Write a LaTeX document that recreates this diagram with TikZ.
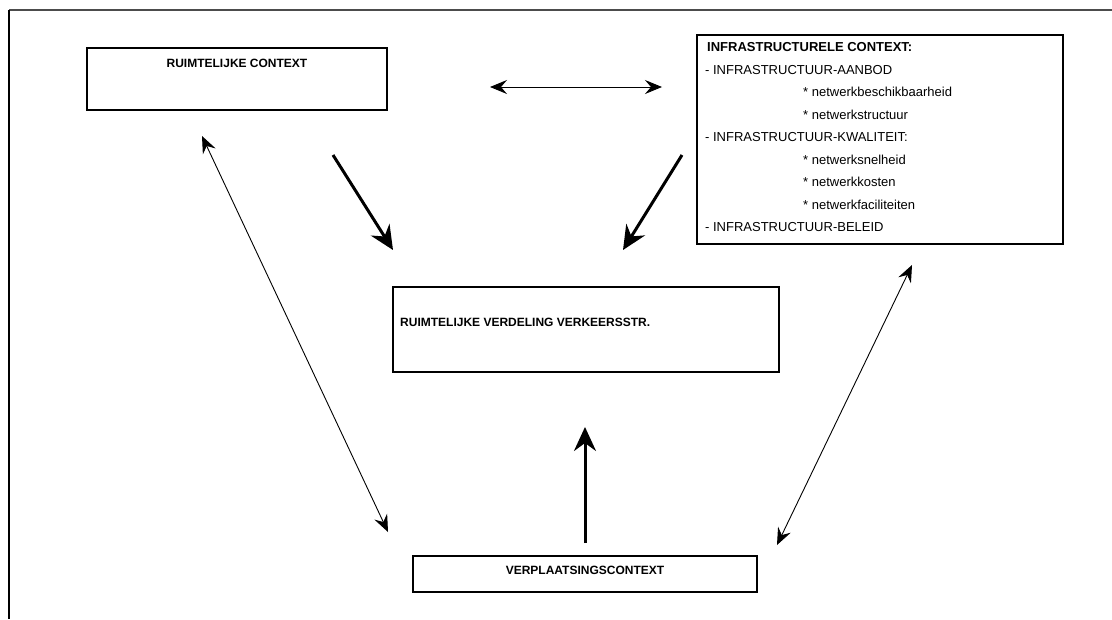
\documentclass[tikz,border=0pt]{standalone}
\usepackage{fontspec}
\setmainfont{Liberation Sans}
\usetikzlibrary{arrows.meta}
\begin{document}
\begin{tikzpicture}[x=1pt,y=-1pt,
  box/.style={draw, line width=2pt, inner sep=0pt, rectangle},
  txt/.style={font=\fontsize{13}{15}\selectfont, inner sep=0pt, anchor=base west},
  head/.style={font=\fontsize{12}{14}\selectfont\bfseries, inner sep=0pt},
  listhead/.style={font=\fontsize{13}{15}\selectfont\bfseries, inner sep=0pt, anchor=base west},
  heavy/.style={line width=3pt, -{Stealth[length=24pt,width=22pt,inset=8pt]}},
  light/.style={line width=0.9pt, {Stealth[length=17pt,width=14pt,inset=6pt]}-{Stealth[length=17pt,width=14pt,inset=6pt]}},
]
\useasboundingbox (0,0) rectangle (1112,619);
% page frame (top and left edges only)
\draw[line width=1.5pt, black!70] (9,10) -- (1112,10);
\draw[line width=1.5pt] (9,10) -- (9,619);

% boxes
\node[box, minimum width=300pt, minimum height=62pt] (ruimte) at (237,79) {};
\node[box, minimum width=366pt, minimum height=209pt] (infra) at (880,139.5) {};
\node[box, minimum width=386pt, minimum height=85pt] (verdeling) at (586,329.5) {};
\node[box, minimum width=344pt, minimum height=36pt] (verplaatsing) at (585,574) {};

% box titles
\node[head, anchor=base] (ruimteT) at (237,67.5) {RUIMTELIJKE CONTEXT};
\node[head, anchor=base west] (verdelingT) at (400,326.5) {RUIMTELIJKE VERDELING VERKEERSSTR.};
\node[head, anchor=base] (verplaatsingT) at (585,574.5) {VERPLAATSINGSCONTEXT};

% infrastructure list
\node[listhead] (i1) at (707,51.5) {INFRASTRUCTURELE CONTEXT:};
\node[txt] (i2) at (705,74) {- INFRASTRUCTUUR-AANBOD};
\node[txt] (i3) at (803,96.5) {* netwerkbeschikbaarheid};
\node[txt] (i4) at (803,119) {* netwerkstructuur};
\node[txt] (i5) at (705,141.5) {- INFRASTRUCTUUR-KWALITEIT:};
\node[txt] (i6) at (803,164) {* netwerksnelheid};
\node[txt] (i7) at (803,186.5) {* netwerkkosten};
\node[txt] (i8) at (803,209) {* netwerkfaciliteiten};
\node[txt] (i9) at (705,231.5) {- INFRASTRUCTUUR-BELEID};

% arrow end points
\coordinate (hA) at (490,87);
\coordinate (hB) at (662,87);
\coordinate (dA) at (333,155);
\coordinate (dB) at (393,250);
\coordinate (eA) at (682,155);
\coordinate (eB) at (623,250);
\coordinate (uA) at (585,543);
\coordinate (uB) at (585,427);
\coordinate (lA) at (202,136);
\coordinate (lB) at (388,532);
\coordinate (rA) at (912,265);
\coordinate (rB) at (777,545);

% connectors
\draw[light] (hA) -- (hB);
\draw[heavy] (dA) -- (dB);
\draw[heavy] (eA) -- (eB);
\draw[heavy] (uA) -- (uB);
\draw[light] (lA) -- (lB);
\draw[light] (rA) -- (rB);
\end{tikzpicture}
\end{document}
